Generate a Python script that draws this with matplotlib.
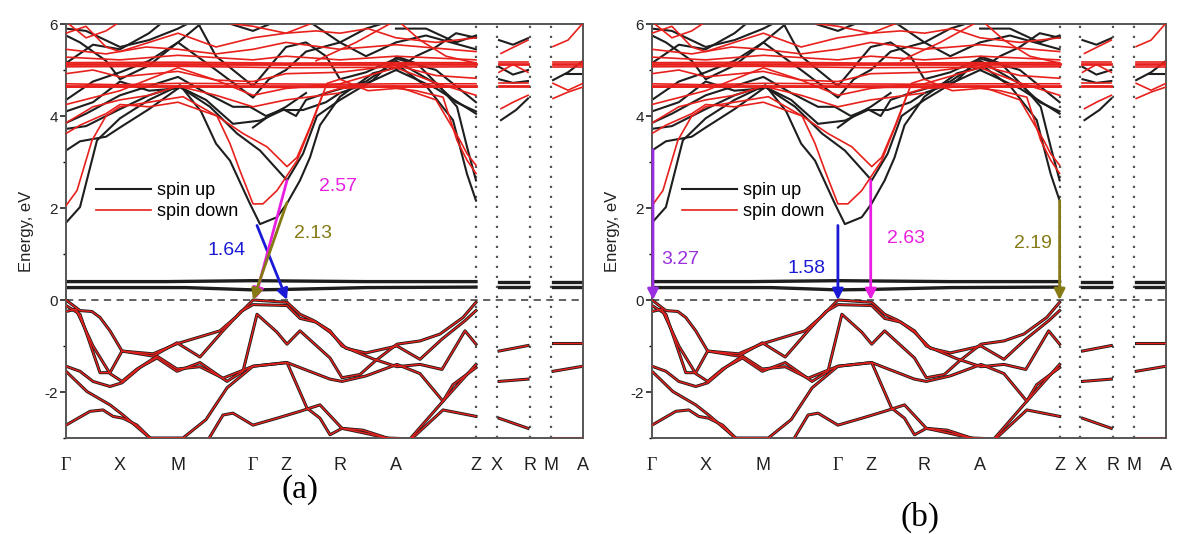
import matplotlib
matplotlib.use('Agg')
import matplotlib.pyplot as plt

plt.rcParams['font.family'] = ['Liberation Sans', 'DejaVu Sans']
plt.rcParams['axes.unicode_minus'] = False

# k-path (arbitrary distance units) and labels
kpts = [0, 54, 112, 187, 220, 274, 330, 410, 431, 464, 485, 517]
klabels = ['Γ', 'X', 'M', 'Γ', 'Z', 'R', 'A', 'Z', 'X', 'R', 'M', 'A']
kbreaks = [410, 431, 464, 485]

# valence bands (spin up and spin down nearly identical)
valence = [
    [(0, 0), (14, -0.23), (26, -0.25), (34, -0.38), (44, -0.67), (56, -1.11), (87, -1.17), (111, -0.95),
     (154, -0.67), (171, -0.35), (187, 0), (221, -0.05), (234, -0.31), (247, -0.44), (264, -0.67),
     (276, -1.0), (307, -1.28), (331, -1.45), (354, -1.4), (376, -1.51), (399, -0.67), (410, -0.96)],
    [(0, -0.12), (14, -0.31), (34, -1.58), (44, -1.58), (56, -1.11), (87, -1.22), (111, -0.93),
     (134, -1.24), (157, -0.67), (175, -0.25), (187, -0.1), (221, -0.12), (234, -0.4), (250, -0.48),
     (264, -0.7), (280, -1.05), (300, -1.15), (331, -1.0), (354, -1.29), (376, -0.85), (399, -0.45),
     (410, -0.23)],
    [(0, -0.25), (10, -0.2), (27, -1.0), (44, -1.6), (56, -1.77), (71, -1.5), (91, -1.26), (111, -1.55),
     (134, -1.36), (161, -1.77), (177, -1.55), (191, -0.31), (211, -0.7), (221, -0.96), (234, -0.67),
     (264, -1.26), (276, -1.69), (294, -1.62), (309, -1.33), (331, -0.96), (354, -0.89), (374, -0.74),
     (397, -0.38), (410, -0.05)],
    [(0, -1.44), (14, -1.55), (27, -1.77), (44, -1.88), (56, -1.8), (75, -1.45), (91, -1.22),
     (111, -1.5), (134, -1.45), (157, -1.7), (187, -1.44), (221, -1.36), (234, -1.47), (264, -1.72),
     (276, -1.77), (300, -1.65), (331, -1.4), (354, -1.6), (377, -2.2), (387, -1.84), (410, -1.47)],
    [(0, -1.55), (21, -1.99), (44, -2.28), (57, -2.5), (84, -3.0), (117, -3.0), (140, -2.6),
     (161, -1.91), (187, -1.44), (221, -1.36), (241, -2.35), (254, -2.57), (264, -2.93), (276, -2.79),
     (297, -2.83), (321, -3.0), (344, -3.02), (377, -2.2), (410, -1.4)],
    [(0, -2.72), (24, -2.42), (37, -2.39), (47, -2.53), (57, -2.57), (71, -2.72), (84, -3.0),
     (100, -3.1), (141, -3.08), (157, -2.5), (167, -2.46), (187, -2.72), (211, -2.57), (234, -2.42),
     (254, -2.28), (276, -2.79), (300, -2.9), (331, -3.05)],
    [(344, -3.05), (377, -2.39), (410, -2.53)],
    [(433, -1.11), (462, -0.99)],
    [(433, -1.77), (462, -1.72)],
    [(433, -2.57), (462, -2.79)],
    [(487, -0.93), (517, -0.93)],
    [(487, -1.55), (517, -1.44)],
    [(487, -3.0), (517, -3.0)],
]

# flat occupied spin-up bands just above the Fermi level
flat_up = [
    [(0, 0.4), (100, 0.4), (187, 0.42), (300, 0.4), (410, 0.4)],
    [(0, 0.27), (120, 0.27), (187, 0.22), (220, 0.23), (300, 0.27), (410, 0.28)],
    [(433, 0.4), (462, 0.4)], [(433, 0.28), (462, 0.28)],
    [(487, 0.4), (517, 0.4)], [(487, 0.28), (517, 0.28)],
]

# conduction bands, spin up
cond_up = [
    [(0, 1.68), (14, 2.02), (31, 3.47), (54, 3.95), (83, 4.35), (114, 4.67), (135, 4.1), (150, 3.4),
     (164, 3.03), (184, 2.09), (194, 1.65), (211, 1.8), (221, 2.1), (234, 2.6), (244, 3.1), (254, 3.8),
     (274, 4.42), (307, 4.93), (334, 5.07), (361, 4.63), (387, 3.91), (401, 2.74), (410, 2.16)],
    [(0, 3.25), (14, 3.45), (40, 3.55), (54, 3.75), (83, 4.15), (114, 4.63), (144, 4.2), (171, 3.62),
     (194, 3.25), (221, 2.6), (237, 3.18), (251, 4.0), (274, 4.35), (307, 4.78), (331, 5.29),
     (351, 5.14), (374, 4.63), (391, 4.2), (401, 3.33), (410, 2.6)],
    [(0, 3.72), (20, 3.78), (54, 4.15), (83, 4.45), (112, 4.65), (140, 4.35), (167, 3.83), (194, 3.9),
     (217, 4.13), (237, 4.13), (260, 4.3), (274, 4.5), (300, 4.7), (330, 5.0), (370, 4.6), (410, 4.05)],
    [(0, 3.85), (20, 4.05), (54, 4.45), (83, 4.65), (112, 4.85), (140, 4.5), (167, 4.2), (184, 4.2),
     (200, 4.0), (217, 4.15), (230, 4.0), (240, 4.35), (260, 4.5), (300, 4.75), (330, 5.2), (370, 4.7),
     (390, 4.3), (410, 4.1)],
    [(0, 4.1), (27, 4.3), (54, 4.75), (83, 4.55), (112, 4.6)],
    [(187, 3.75), (203, 4.0), (220, 4.2), (240, 4.5)],
    [(0, 4.35), (27, 4.75), (54, 4.95), (83, 5.2), (112, 5.6), (150, 5.0), (187, 4.4), (203, 4.8),
     (220, 5.0), (240, 5.4), (274, 5.6), (300, 5.9), (330, 6.1)],
    [(0, 5.15), (27, 5.55), (54, 5.45), (83, 5.8), (100, 6.1)],
    [(130, 6.1), (150, 5.3), (187, 4.65), (220, 5.5), (240, 5.6), (260, 5.3), (274, 4.8), (300, 4.95),
     (330, 5.25), (370, 5.0), (410, 4.3)],
    [(0, 5.75), (14, 5.6), (40, 5.2), (54, 4.8), (83, 5.1), (112, 5.6), (140, 6.1)],
    [(0, 5.9), (20, 5.85), (54, 5.5), (83, 5.65), (112, 5.9), (130, 6.1)],
    [(150, 6.1), (187, 5.85), (215, 6.1)],
    [(240, 6.1), (274, 5.6), (300, 5.3), (330, 5.6), (360, 5.75), (410, 5.45)],
    [(330, 5.0), (350, 5.3), (370, 5.5), (390, 5.8), (410, 5.7)],
    [(330, 5.9), (360, 5.9), (390, 5.6), (410, 5.75)],
    [(433, 5.65), (447, 5.55), (462, 5.69)],
    [(433, 5.07), (447, 4.9), (462, 5.0)],
    [(433, 4.8), (447, 4.72), (462, 4.76)],
    [(435, 3.91), (450, 4.13), (462, 4.38)],
    [(487, 4.78), (502, 4.95), (517, 5.2)],
    [(500, 4.92), (517, 4.92)],
]

# conduction bands, spin down
cond_dn = [
    [(0, 2.05), (11, 2.38), (26, 3.47), (40, 4.0), (54, 4.2), (83, 4.3), (117, 4.42), (151, 4.0),
     (164, 3.4), (174, 2.81), (187, 2.09), (197, 2.09), (211, 2.38), (231, 3.03), (247, 3.9),
     (261, 4.71), (274, 4.8), (302, 4.55), (330, 4.6), (350, 4.55), (377, 4.41), (391, 3.47),
     (401, 3.04), (410, 2.75)],
    [(0, 3.62), (14, 3.8), (40, 4.05), (54, 4.25), (83, 4.2), (112, 4.3), (151, 4.0), (177, 3.62),
     (201, 3.33), (221, 2.9), (231, 3.1), (244, 3.76), (257, 4.49), (274, 4.6), (330, 4.65),
     (370, 4.35), (394, 3.47), (401, 3.18), (410, 2.93)],
    [(0, 3.85), (27, 4.2), (54, 4.35), (83, 4.45), (112, 4.65), (150, 4.45), (187, 4.2), (220, 4.35),
     (274, 4.5)],
    [(0, 4.7), (54, 4.68), (112, 4.71), (187, 4.7), (274, 4.69), (330, 4.7), (410, 4.7)],
    [(0, 4.63), (112, 4.64), (220, 4.62), (330, 4.63), (410, 4.63)],
    [(0, 5.16), (112, 5.17), (220, 5.15), (330, 5.16), (410, 5.16)],
    [(0, 5.07), (112, 5.08), (220, 5.05), (410, 5.07)],
    [(0, 5.28), (54, 5.22), (112, 5.32), (187, 5.22), (220, 5.3), (274, 5.22), (330, 5.3), (410, 5.22)],
    [(0, 5.45), (40, 5.35), (80, 5.5), (112, 5.45), (150, 5.35), (187, 5.45), (220, 5.6), (274, 5.45),
     (330, 5.55), (410, 5.4)],
    [(0, 4.92), (27, 5.0), (54, 4.85), (112, 4.97), (150, 4.78), (187, 4.75), (220, 4.92), (274, 4.95),
     (330, 5.1), (370, 4.88), (410, 4.82)],
    [(0, 4.25), (27, 4.4), (54, 4.55), (83, 4.8), (112, 5.05), (150, 4.78), (187, 4.45), (220, 4.6),
     (274, 4.7), (330, 5.05), (370, 4.72), (410, 4.45)],
    [(0, 5.8), (20, 5.95), (40, 5.5), (54, 5.4), (83, 5.6), (112, 5.8), (150, 5.5), (187, 5.7),
     (220, 5.8), (250, 5.85), (274, 5.8), (302, 5.9), (330, 5.7), (370, 5.6), (410, 5.7)],
    [(250, 5.2), (290, 5.6), (331, 6.09), (354, 5.65), (380, 5.3), (410, 5.15)],
    [(0, 6.05), (20, 5.7), (40, 5.85), (54, 6.05)],
    [(150, 6.05), (187, 5.95), (220, 5.8), (250, 6.05)],
    [(435, 5.36), (448, 5.5), (462, 5.65)],
    [(433, 5.18), (462, 5.18)],
    [(433, 4.95), (447, 5.12), (462, 4.95)],
    [(433, 4.71), (462, 4.71)],
    [(435, 4.16), (448, 4.31), (462, 4.45)],
    [(487, 5.51), (502, 5.65), (517, 6.02)],
    [(487, 5.18), (517, 5.18)],
    [(487, 5.07), (517, 5.07)],
    [(487, 4.71), (502, 4.56), (517, 4.71)],
    [(487, 4.38), (502, 4.52), (517, 4.63)],
]

# the two heavily degenerate spin-down levels drawn thicker
thick_dn = [
    [(0, 5.12), (410, 5.12)], [(433, 5.12), (462, 5.12)], [(487, 5.12), (517, 5.12)],
    [(0, 4.66), (410, 4.66)], [(433, 4.66), (462, 4.66)],
]

BLACK = '#1e1e1e'
RED = '#e8201c'


def draw_bands(ax, bands, color, lw, z):
    for b in bands:
        k, e = zip(*b)
        ax.plot(k, e, color=color, lw=lw, zorder=z, solid_joinstyle='round')


def setup_panel(ax):
    draw_bands(ax, cond_up, BLACK, 1.5, 2)
    draw_bands(ax, cond_dn, RED, 1.2, 3)
    draw_bands(ax, thick_dn, RED, 2.0, 3)
    draw_bands(ax, valence, BLACK, 2.2, 2)
    draw_bands(ax, valence, RED, 1.0, 3)
    draw_bands(ax, flat_up, BLACK, 2.4, 2)
    ax.axhline(0, color='#555555', lw=1.3, ls=(0, (4, 3)), zorder=1)
    for kb in kbreaks:
        ax.axvline(kb, color='#555555', lw=1.6, ls=(0, (1, 3.5)), zorder=1)
    ax.set_xlim(0, 517)
    ax.set_ylim(-3, 6)
    ax.set_xticks(kpts)
    ax.set_xticklabels(klabels, fontsize=13, color='#222222')
    ax.tick_params(axis='x', length=0, pad=14)
    ax.set_yticks([-2, 0, 2, 4, 6])
    ax.set_yticks([-3, -1, 1, 3, 5], minor=True)
    ax.tick_params(axis='y', direction='out', length=4, width=1.2, labelsize=11,
                   colors='#222222', pad=2)
    ax.tick_params(axis='y', which='minor', length=2.5, width=1)
    for s in ax.spines.values():
        s.set_color('#555555')
        s.set_linewidth(1.4)
    ax.set_ylabel('Energy, eV', fontsize=12, color='#222222', labelpad=7)
    for t in ax.get_xticklabels():
        if t.get_text() == 'Γ':
            t.set_fontfamily('Liberation Serif')
    leg_lines = [plt.Line2D([], [], color=BLACK, lw=1.5), plt.Line2D([], [], color=RED, lw=1.2)]
    ax.legend(leg_lines, ['spin up', 'spin down'], loc='upper left', bbox_to_anchor=(0.045, 0.635),
              frameon=False, fontsize=13, handlelength=3.0, handletextpad=0.35, labelspacing=0.2,
              borderaxespad=0)


fig = plt.figure(figsize=(11.77, 5.34), dpi=100)
ax_a = fig.add_axes([66 / 1177, 96 / 534, 517 / 1177, 414 / 534])
ax_b = fig.add_axes([652 / 1177, 96 / 534, 514 / 1177, 414 / 534])
setup_panel(ax_a)
setup_panel(ax_b)

BLUE = '#1a1ad6'
MAGENTA = '#e81ee0'
OLIVE = '#857a14'
PURPLE = '#9a2fe0'


def arrow(ax, start, end, color):
    ax.annotate('', xy=end, xytext=start,
                arrowprops=dict(arrowstyle='-|>', color=color, lw=2, mutation_scale=16,
                                shrinkA=0, shrinkB=0), zorder=6)


# panel (a): indirect gaps
arrow(ax_a, (191, 1.62), (221, 0.0), BLUE)
arrow(ax_a, (221, 2.6), (189, 0.02), MAGENTA)
arrow(ax_a, (221, 2.12), (187, 0.0), OLIVE)
ax_a.text(161, 1.07, '1.64', color=BLUE, fontsize=14, ha='center', va='center')
ax_a.text(247, 1.44, '2.13', color=OLIVE, fontsize=14, ha='center', va='center')
ax_a.text(272, 2.47, '2.57', color=MAGENTA, fontsize=14, ha='center', va='center')

# panel (b): direct gaps
arrow(ax_b, (1, 3.27), (1, 0.0), PURPLE)
arrow(ax_b, (187, 1.62), (187, 0.0), BLUE)
arrow(ax_b, (220, 2.6), (220, 0.0), MAGENTA)
arrow(ax_b, (410, 2.16), (410, 0.0), OLIVE)
ax_b.text(28, 0.88, '3.27', color=PURPLE, fontsize=14, ha='center', va='center')
ax_b.text(155, 0.68, '1.58', color=BLUE, fontsize=14, ha='center', va='center')
ax_b.text(255, 1.33, '2.63', color=MAGENTA, fontsize=14, ha='center', va='center')
ax_b.text(383, 1.22, '2.19', color=OLIVE, fontsize=14, ha='center', va='center')

fig.text(300 / 1177, 1 - 490 / 534, '(a)', fontsize=24, family='Liberation Serif',
         ha='center', va='center')
fig.text(920 / 1177, 1 - 517 / 534, '(b)', fontsize=24, family='Liberation Serif',
         ha='center', va='center')

fig.savefig('out.png', dpi=100)
